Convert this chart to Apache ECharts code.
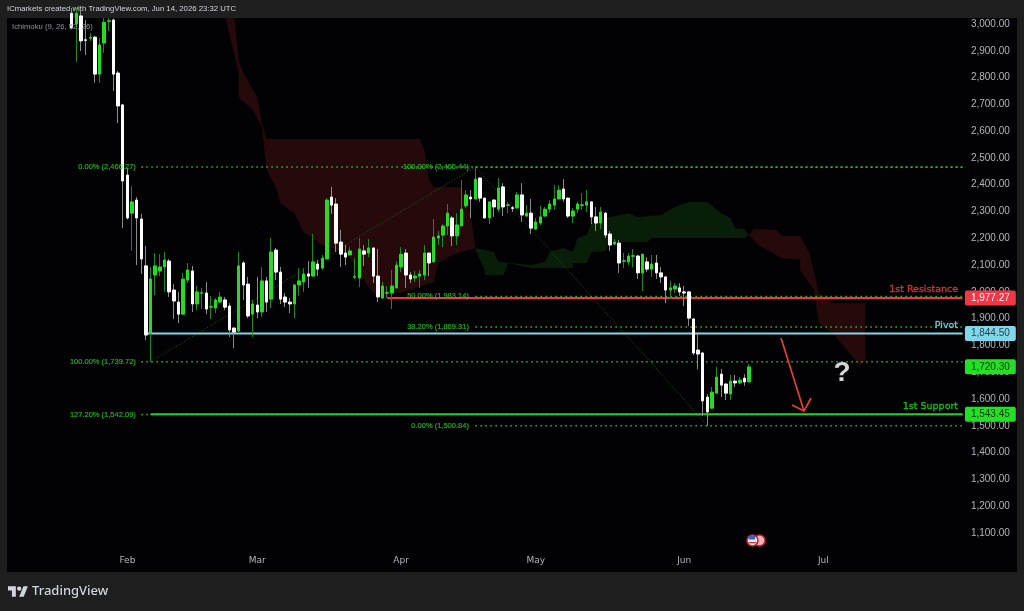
<!DOCTYPE html>
<html><head><meta charset="utf-8">
<style>
html,body{margin:0;padding:0;width:1024px;height:611px;overflow:hidden;background:#1e1e1e}
#panel{position:absolute;left:7px;top:18px;width:1010px;height:554px;background:#020204}
#c{position:absolute;left:0;top:0;width:1024px;height:611px}
</style>
<script src="https://cdn.jsdelivr.net/npm/echarts@6/dist/echarts.min.js"></script>
</head><body><div id="panel"></div><div id="c"></div>
<script>
const firstCandle = 14, bandCount = 207;
const monthLabels = {26:'Feb',54:'Mar',85:'Apr',114:'May',146:'Jun',176:'Jul'};
const opens = [3040,3000,3030,2941,2947,2951,2813,2929,3010,3015,
2817,2698,2436,2294,2343,2272,2097,1846,2063,2078,
2093,2115,2007,1962,1917,2044,2078,1955,1995,1996,
1943,1940,1962,1970,1947,1865,1854,2108,2029,1917,
1951,1925,2041,1973,2156,2074,1981,1962,1955,2026,
2037,2067,2059,2104,2089,2123,2354,2328,2186,2145,
2138,2055,2052,2153,2145,2164,2059,1977,1995,1996,
2015,2093,2145,2063,2052,2059,2063,2145,2112,2201,
2212,2246,2276,2209,2246,2321,2354,2347,2425,2350,
2276,2343,2309,2392,2323,2314,2313,2362,2283,2294,
2235,2257,2283,2309,2324,2347,2384,2350,2283,2309,
2323,2324,2336,2280,2257,2294,2216,2179,2182,2114,
2112,2133,2134,2071,2112,2085,2108,2071,2056,2007,
2011,2015,2000,2000,1899,1783,1772,1607,1566,1622,
1693,1656,1619,1667,1660,1678,1664];
const closes = [2985,3040,2937,2939,2950,2813,2922,3007,3012,2813,
2694,2414,2276,2336,2276,2123,1839,2048,2097,2093,
2119,2000,1966,1917,2048,2082,1955,2000,1997,1936,
1945,1970,1981,1943,1858,1850,2097,2026,1910,1955,
1925,2041,1962,2149,2074,1973,1962,1955,2026,2041,
2067,2059,2112,2085,2126,2343,2324,2182,2141,2130,
2153,2057,2160,2141,2164,2059,1981,2022,1997,2022,
2100,2141,2063,2048,2059,2067,2145,2108,2205,2209,
2246,2294,2209,2250,2309,2362,2347,2421,2350,2276,
2336,2317,2388,2317,2325,2312,2362,2287,2294,2238,
2261,2280,2309,2328,2347,2380,2347,2283,2302,2328,
2325,2336,2280,2257,2298,2212,2175,2186,2108,2116,
2134,2135,2071,2141,2085,2104,2071,2056,2007,2015,
2022,2000,1996,1902,1772,1768,1593,1552,1626,1682,
1652,1622,1667,1660,1671,1664,1720];
const lows = [2980,2858,2899,2884,2937,2780,2780,2892,2974,2750,
2630,2238,2270,2153,2100,2067,1820,1738,1988,2059,
2000,1981,1899,1884,1915,2033,1925,1932,1936,1917,
1899,1921,1958,1932,1832,1790,1846,1970,1902,1832,
1902,1906,1925,1940,2044,1955,1943,1921,1902,1985,
2000,2015,2058,2059,2082,2121,2291,2149,2093,2100,
2137,2048,2018,2097,2130,2033,1962,1976,1977,1936,
2013,2074,2015,2033,2037,2015,2044,2059,2111,2175,
2167,2212,2171,2175,2245,2313,2276,2346,2336,2274,
2253,2280,2298,2283,2294,2298,2312,2261,2282,2216,
2231,2250,2282,2294,2306,2346,2336,2276,2257,2294,
2306,2298,2253,2227,2235,2201,2153,2175,2071,2089,
2100,2093,2048,2003,2074,2056,2048,2033,1958,1973,
1996,1985,1947,1873,1764,1712,1537,1500,1563,1619,
1607,1596,1596,1645,1656,1649,1663];
const highs = [3060,3060,3050,3015,2966,2955,2948,3022,3022,3020,
2825,2702,2462,2395,2354,2291,2171,2093,2145,2141,
2149,2123,2029,2000,2071,2108,2097,2022,2015,2037,
1985,1977,2000,1981,1958,1867,2149,2115,2056,1970,
2056,2093,2056,2201,2164,2093,1996,1977,2027,2089,
2089,2115,2216,2119,2138,2350,2392,2350,2231,2175,
2167,2126,2201,2175,2197,2165,2160,2037,2022,2082,
2115,2167,2160,2074,2078,2082,2175,2146,2272,2227,
2253,2328,2283,2294,2418,2380,2380,2462,2427,2352,
2338,2345,2425,2406,2336,2321,2373,2406,2324,2347,
2276,2321,2317,2343,2399,2399,2421,2352,2313,2336,
2369,2380,2338,2317,2317,2298,2227,2197,2194,2145,
2145,2160,2138,2142,2130,2138,2138,2093,2057,2041,
2033,2033,2022,2003,1902,1843,1776,1619,1645,1720,
1712,1660,1690,1690,1682,1693,1731];

// Ichimoku cloud outlines: [candle index, price]
const cloudRedA = [[47,3040],[49,3040],[50,2866],[51,2817],[54,2727],[55,2630],[56,2571],[89,2571],[90,2530],[91,2418],[92,2392],[98,2392],[100,2287],[101,2164],
[96,2138],[93,2108],[92,2037],[88,2015],[85,1996],[81,1996],[80,1981],[78,2018],[75,2100],[73,2149],[68,2175],[64,2224],[62,2294],[59,2332],[58,2392],[56,2455],[55,2615],[53,2679],[50,2727],[50,2817],[48,2959]];
const cloudGreen = [[101,2164],[105,2149],[106,2112],[113,2100],[116,2112],[117,2149],[120,2164],[122,2149],[123,2201],[125,2212],[126,2257],[130,2280],[134,2294],[136,2280],[141,2287],[144,2317],[147,2336],[151,2336],[154,2294],[156,2276],[157,2238],[159,2235],[160,2212],
[159,2201],[139,2201],[138,2186],[130,2186],[129,2153],[126,2149],[125,2108],[122,2108],[122,2089],[113,2089],[108,2108],[107,2063],[103,2063],[103,2082],[101,2156]];
const cloudRedB = [[160,2212],[161,2235],[166,2231],[167,2209],[171,2209],[173,2145],[175,1996],[178,1958],[185,1958],[185,1746],[184,1723],[181,1783],[178,1846],[175,1884],[174,2007],[171,2082],[171,2123],[167,2126],[164,2156],[162,2175]];

// Fibonacci levels
const fibAStart = 29, fibBStart = 101;
const fibA = [[2466.27,'0.00% (2,466.27)'],[1739.72,'100.00% (1,739.72)'],[1542.09,'127.20% (1,542.09)']];
const fibB = [[2465.44,'100.00% (2,465.44)'],[1983.14,'50.00% (1,983.14)'],[1869.31,'38.20% (1,869.31)'],[1500.84,'0.00% (1,500.84)']];
const trendA = [[31,1739.72],[101,2466.27]];
const trendB = [[101,2466.27],[151,1500.84]];

// Named levels
const levels = [
 {name:'1st Resistance',value:1977.27,start:82,color:'#f23645'},
 {name:'Pivot',value:1844.50,start:30,color:'#7fd8ea'},
 {name:'1st Support',value:1543.45,start:31,color:'#22d022'}
];
const priceTags = [
 {value:1977.27,bg:'#f23645',fg:'#ffffff'},
 {value:1844.50,bg:'#7fd8ea',fg:'#2c3f48'},
 {value:1720.30,bg:'#22e022',fg:'#123312'},
 {value:1543.45,bg:'#22e022',fg:'#123312'}
];

const fmt = v => Number(v).toLocaleString('en-US',{minimumFractionDigits:2,maximumFractionDigits:2});
const categories = Array.from({length:bandCount},(_,i)=>String(i));
const last = bandCount-1;
const rows = opens.map((o,i)=>[firstCandle+i,o,closes[i],lows[i],highs[i]]);
const bodyRows = opens.map((o,i)=>[firstCandle+i,o,closes[i],Math.min(o,closes[i]),Math.max(o,closes[i])]);

function cloud(pts,color){
  return {type:'custom',coordinateSystem:'cartesian2d',clip:true,silent:true,z:1,
    data:pts,encode:{x:0,y:1},
    renderItem(params,api){
      if(params.dataIndex!==0) return null;
      return {type:'polygon',shape:{points:pts.map(p=>api.coord(p))},style:{fill:color}};
    }};
}
function dotted(start,v){
  return {type:'line',data:[[String(start),v],[String(last),v]],symbol:'none',silent:true,z:2,
    lineStyle:{color:'#20c820',width:1.5,type:[1.5,3.5]}};
}
function textSeries(items,labelOpt){
  return {type:'scatter',data:items,symbolSize:1,itemStyle:{color:'transparent'},silent:true,z:7,
    label:Object.assign({show:true,fontFamily:'Liberation Sans',fontSize:7.5,color:'#26cc26',textBorderColor:'#26cc26',textBorderWidth:0.2},labelOpt)};
}
const series = [
 cloud(cloudRedA,'#260a0b'),cloud(cloudGreen,'#081e09'),cloud(cloudRedB,'#260a0b'),
 {type:'line',data:trendA.map(p=>[String(p[0]),p[1]]),symbol:'none',silent:true,z:2,lineStyle:{color:'#1a6a1a',width:1,type:[1,2]}},
 {type:'line',data:trendB.map(p=>[String(p[0]),p[1]]),symbol:'none',silent:true,z:2,lineStyle:{color:'#1a6a1a',width:1,type:[1,2]}},
 ...fibA.map(f=>dotted(fibAStart,f[0])),
 ...fibB.map(f=>dotted(fibBStart,f[0])),
 textSeries(fibA.map(f=>({value:[String(fibAStart),f[0]],label:{formatter:f[1]}})),{position:'left',distance:5}),
 textSeries(fibB.map(f=>({value:[String(fibBStart),f[0]],label:{formatter:f[1]}})),{position:'left',distance:6}),
 ...levels.map(l=>({type:'line',data:[[String(l.start),l.value],[String(last),l.value]],symbol:'none',silent:true,z:4,lineStyle:{color:l.color,width:2}})),
 textSeries(levels.map(l=>({value:[String(last),l.value],label:{formatter:l.name,color:l.color,textBorderColor:l.color,textBorderWidth:0.4}})),{position:'left',distance:4,offset:[0,-8],fontSize:9.5,fontFamily:'DejaVu Sans'}),
 {type:'candlestick',name:'wicks',data:rows,encode:{x:0,y:[1,2,3,4]},barWidth:1,silent:true,z:5,
  itemStyle:{color:'#1a8a1a',color0:'#8c8c8c',borderColor:'#1a8a1a',borderColor0:'#8c8c8c',borderWidth:1}},
 {type:'candlestick',name:'bodies',data:bodyRows,encode:{x:0,y:[1,2,3,4]},barWidth:3,silent:true,z:6,
  itemStyle:{color:'#22dd22',color0:'#ffffff',borderColor:'#22dd22',borderColor0:'#ffffff',borderWidth:1},
  markLine:{silent:true,symbol:'none',animation:false,lineStyle:{color:'transparent'},
   data:priceTags.map(t=>({yAxis:t.value,label:{position:'end',distance:0,formatter:fmt(t.value),
     backgroundColor:t.bg,color:t.fg,padding:[3,6,2,6],borderRadius:2,fontFamily:'Liberation Sans',fontSize:10}}))}}
];

const gText='#d1d4dc';
const graphic = [
 {type:'text',x:7,y:9,silent:true,style:{text:'ICmarkets created with TradingView.com, Jun 14, 2026 23:32 UTC',fill:'#d1d4dc',font:'7.75px "Liberation Sans"',verticalAlign:'middle'}},
 {type:'text',x:12,y:27,silent:true,style:{text:'Ichimoku (9, 26, 52, 26)',fill:'#8f939d',font:'7.7px "Liberation Sans"',verticalAlign:'middle'},z:10},
 {type:'text',x:32,y:591,silent:true,style:{text:'TradingView',fill:gText,font:'500 13px "Noto Sans"',verticalAlign:'middle'}},
 {type:'polygon',silent:true,x:8,y:584,scaleX:.56,scaleY:.58,shape:{points:[[0,4],[14,4],[14,22],[7,22],[7,11],[0,11]]},style:{fill:gText}},
 {type:'polygon',silent:true,x:8,y:584,scaleX:.56,scaleY:.58,shape:{points:[[20,22],[27.5,4],[35.5,4],[28,22]]},style:{fill:gText}},
 {type:'circle',silent:true,shape:{cx:19.2,cy:588.6,r:2.2},style:{fill:gText}},
 {type:'polyline',silent:true,shape:{points:[[781,338],[804,411]]},style:{stroke:'#ef4036',lineWidth:1.6,fill:'none'},z:20},
 {type:'polyline',silent:true,shape:{points:[[792,405],[804,411],[811,398]]},style:{stroke:'#ef4036',lineWidth:1.6,fill:'none'},z:20},
 {type:'text',x:842,y:373,silent:true,style:{text:'?',fill:'#d5d6da',font:'bold 28px "Liberation Sans"',align:'center',verticalAlign:'middle'},z:20},
 {type:'circle',silent:true,shape:{cx:759.5,cy:540.5,r:5.5},style:{fill:'#e9b7bb',stroke:'#c8202c',lineWidth:1.5},z:20},
 {type:'circle',silent:true,shape:{cx:752.5,cy:540.5,r:5.5},style:{fill:'#e8e8f0',stroke:'#c8202c',lineWidth:1.5},z:21},
 {type:'rect',silent:true,shape:{x:748.5,y:536,width:6.5,height:3.5},style:{fill:'#3a62c8'},z:22},
 {type:'rect',silent:true,shape:{x:748.5,y:542,width:8,height:1.3},style:{fill:'#d23a3a'},z:22}
];

const chart = echarts.init(document.getElementById('c'),null,{renderer:'canvas'});
chart.setOption({
 animation:false,backgroundColor:'transparent',
 grid:{left:4.42,top:18,width:960.48,height:541.8,containLabel:false},
 xAxis:{type:'category',data:categories,boundaryGap:true,axisLine:{show:false},axisTick:{show:false},splitLine:{show:false},
  axisLabel:{show:true,interval:0,hideOverlap:false,margin:1,verticalAlign:'middle',color:'#b2b5be',fontFamily:'DejaVu Sans',fontSize:9,
   formatter:(v,i)=>monthLabels[i]||''}},
 yAxis:{type:'value',position:'right',min:1000,max:3022.4,interval:100,scale:false,axisLine:{show:false},axisTick:{show:false},splitLine:{show:false},
  axisLabel:{show:true,showMinLabel:false,showMaxLabel:false,margin:6,align:'left',color:'#b2b5be',fontFamily:'Liberation Sans',fontSize:10,formatter:v=>fmt(v)}},
 tooltip:{show:false},legend:{show:false},
 series,graphic
});
</script></body></html>
